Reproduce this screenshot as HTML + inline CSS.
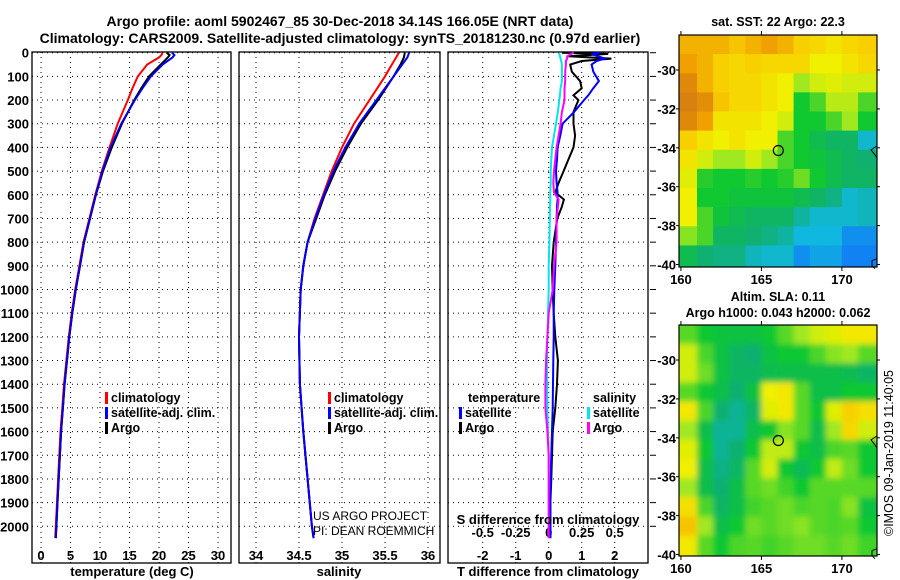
<!DOCTYPE html>
<html><head><meta charset="utf-8">
<style>
html,body{margin:0;padding:0;background:#fff;}
svg{display:block;font-family:"Liberation Sans",Arial,sans-serif;font-weight:bold;}
</style></head>
<body>
<svg id="c" width="900" height="580" viewBox="0 0 900 580" xmlns="http://www.w3.org/2000/svg">
<defs>
<clipPath id="clipT"><rect x="679" y="35" width="198" height="232"/></clipPath>
<clipPath id="clipB"><rect x="679" y="325" width="198" height="231"/></clipPath>
<filter id="blur" x="-10%" y="-10%" width="120%" height="120%"><feGaussianBlur stdDeviation="3"/></filter>
</defs>
<text x="340" y="26" text-anchor="middle" font-size="14">Argo profile: aoml 5902467_85 30-Dec-2018 34.14S 166.05E (NRT data)</text>
<text x="340" y="43" text-anchor="middle" font-size="14">Climatology: CARS2009. Satellite-adjusted climatology: synTS_20181230.nc (0.97d earlier)</text>
</svg>
<script>
// ---- profile data ----
const depthT = [0,10,20,50,100,150,200,300,400,500,600,700,800,900,1000,1100,1200,1300,1400,1500,1600,1700,1800,1900,2000,2050];
const tempArgo = [21.3,21.8,21.5,20.3,18.3,17.0,15.8,13.7,12.0,10.5,9.3,8.3,7.3,6.6,5.9,5.3,4.8,4.4,4.0,3.7,3.4,3.2,3.0,2.8,2.6,2.5];
const tempClim = [20.6,20.4,20.0,18.0,16.4,15.5,14.7,13.0,11.6,10.3,9.2,8.2,7.2,6.5,5.8,5.2,4.7,4.3,3.9,3.6,3.3,3.1,2.9,2.7,2.5,2.4];
const tempSat = [22.2,22.6,22.3,20.6,18.6,17.2,15.9,13.6,11.8,10.4,9.3,8.3,7.3,6.6,5.9,5.3,4.8,4.4,4.0,3.7,3.4,3.2,3.0,2.8,2.6,2.5];
const depthS = [0,20,50,100,200,300,400,500,600,700,800,900,1000,1200,1400,1600,1800,2000,2050];
const salArgo = [35.73,35.72,35.68,35.6,35.42,35.22,35.06,34.92,34.8,34.7,34.6,34.55,34.52,34.5,34.51,34.55,34.6,34.65,34.67];
const salClim = [35.66,35.63,35.58,35.5,35.32,35.14,35.0,34.88,34.78,34.68,34.6,34.55,34.52,34.5,34.51,34.55,34.6,34.65,34.67];
const salSat = [35.78,35.76,35.7,35.6,35.4,35.2,35.04,34.9,34.79,34.69,34.6,34.55,34.52,34.5,34.51,34.55,34.6,34.65,34.67];
const depthD = [0,5,15,25,35,50,80,120,150,180,200,250,300,350,400,450,500,550,590,620,650,700,800,900,1000,1100,1200,1300,1400,1500,1600,1700,1800,1900,2000,2050];
const tDiffArgo = [0.4,1.8,0.6,1.9,1.0,0.65,0.7,0.95,1.0,0.75,0.9,0.75,0.75,0.8,0.75,0.6,0.45,0.3,0.2,0.46,0.4,0.26,0.15,0.1,0.12,0.15,0.2,0.28,0.25,0.2,0.12,0.1,0.08,0.05,0.05,0.05];
const tDiffSat = [1.55,1.3,1.5,1.7,1.45,1.3,1.35,1.52,1.35,1.2,1.07,0.77,0.42,0.35,0.27,0.25,0.22,0.24,0.27,0.27,0.25,0.24,0.22,0.2,0.17,0.15,0.15,0.14,0.13,0.12,0.1,0.08,0.06,0.05,0.05,0.05];
const sDiffArgo = [0.19,0.17,0.14,0.14,0.13,0.13,0.125,0.125,0.12,0.12,0.12,0.1,0.09,0.075,0.06,0.05,0.04,0.035,0.04,0.075,0.07,0.06,0.06,0.04,0.03,0.0,-0.01,-0.02,-0.025,-0.025,-0.01,0.0,0.0,0.0,0.0,0.0];
const sDiffSat = [0.075,0.08,0.085,0.09,0.095,0.1,0.1,0.1,0.09,0.085,0.08,0.07,0.055,0.04,0.025,0.02,0.015,0.015,0.012,0.012,0.01,0.008,0.005,0.0,0.0,-0.005,-0.01,-0.012,-0.012,-0.01,-0.005,0.0,0.0,0.0,0.0,0.0];
const depthTicks = [0,100,200,300,400,500,600,700,800,900,1000,1100,1200,1300,1400,1500,1600,1700,1800,1900,2000];
const tempTicks = [0,5,10,15,20,25,30];
const salTicks = [34,34.5,35,35.5,36];
const salTickLabels = ["34","34.5","35","35.5","36"];
const tdTicks = [-2,-1,0,1,2];
const sdTicks = [-0.5,-0.25,0,0.25,0.5];
const sdTickLabels = ["-0.5","-0.25","0","0.25","0.5"];
// ---- map data (rows lat -28.2 -> -40, cols lon 160 -> 172) ----
const sstGrid = [
[.85,.85,.85,.82,.85,.88,.85,.8,.78,.75,.78,.8],
[.88,.85,.8,.78,.8,.78,.78,.78,.72,.72,.75,.78],
[.93,.85,.8,.78,.78,.75,.72,.62,.68,.7,.68,.68],
[.95,.92,.82,.78,.78,.75,.72,.5,.55,.65,.65,.55],
[.93,.88,.75,.75,.75,.72,.68,.5,.5,.55,.62,.5],
[.8,.75,.72,.75,.72,.72,.55,.5,.45,.42,.42,.3],
[.75,.68,.62,.62,.68,.62,.55,.5,.48,.45,.42,.4],
[.7,.52,.5,.5,.52,.5,.52,.58,.5,.45,.42,.42],
[.72,.5,.5,.48,.48,.48,.48,.45,.42,.38,.3,.32],
[.72,.55,.48,.45,.42,.42,.42,.35,.3,.3,.3,.32],
[.6,.55,.42,.42,.4,.38,.35,.28,.28,.28,.22,.22],
[.45,.4,.38,.38,.32,.3,.3,.22,.25,.25,.2,.2]];
const slaGrid = [
[.56,.5,.48,.47,.47,.5,.56,.62,.68,.7,.74,.74],
[.68,.55,.47,.42,.4,.47,.5,.5,.55,.6,.62,.56],
[.68,.58,.47,.42,.42,.45,.46,.46,.46,.46,.45,.42],
[.56,.5,.46,.4,.47,.72,.74,.56,.46,.46,.5,.5],
[.74,.55,.4,.36,.42,.7,.74,.56,.5,.7,.8,.76],
[.62,.46,.36,.36,.46,.5,.6,.56,.46,.62,.78,.68],
[.7,.5,.36,.4,.5,.66,.66,.5,.46,.55,.56,.5],
[.72,.46,.38,.42,.56,.68,.5,.44,.5,.66,.58,.5],
[.62,.46,.4,.46,.56,.58,.54,.5,.56,.56,.56,.56],
[.76,.55,.42,.46,.54,.56,.58,.55,.56,.55,.6,.47],
[.82,.62,.46,.5,.58,.56,.58,.6,.56,.55,.56,.5],
[.74,.56,.5,.55,.56,.54,.56,.58,.58,.56,.58,.54]];
const mapLatTicks = [-30,-32,-34,-36,-38,-40];
const mapLonTicks = [160,165,170];
const argoLon = 166.05, argoLat = -34.14;

const NS="http://www.w3.org/2000/svg";
const svg=document.getElementById('c');
function el(tag,attrs,parent){const e=document.createElementNS(NS,tag);for(const k in attrs)e.setAttribute(k,attrs[k]);(parent||svg).appendChild(e);return e;}

const Y0=52.7, PXD=0.2368;
const yD=d=>Y0+d*PXD;
const TOP=52, BOT=563;
const panels=[
 {x0:32,x1:231,name:'temperature'},
 {x0:239,x1:440,name:'salinity'},
 {x0:448,x1:648,name:'difference'}];
const xT=v=>32+(v+1.53)*5.9;
const xS=v=>256+(v-34)*86;
const xTD=v=>548.7+v*33;
const xSD=v=>548.7+v*132;

function path(xs,ys,fx,color,name,w){
  let d='';for(let i=0;i<xs.length;i++){d+=(i?'L':'M')+fx(xs[i]).toFixed(1)+' '+yD(ys[i]).toFixed(1);}
  const p=el('path',{d:d,fill:'none',stroke:color,'stroke-width':w||2});
  
  
}

panels.forEach((p,i)=>{
  const g=el('g',{});
  
  
  depthTicks.forEach(d=>{
    const l=el('line',{x1:p.x0,x2:p.x1,y1:yD(d),y2:yD(d),stroke:'#000','stroke-dasharray':'1 4','stroke-width':1},g);
    
    
  });
  el('rect',{x:p.x0,y:TOP,width:p.x1-p.x0,height:BOT-TOP,fill:'none',stroke:'#000','stroke-width':1.3},g);
});
function vgrid(ticks,labels,fx,ly,name){
  ticks.forEach((t,i)=>{
    const l=el('line',{x1:fx(t),x2:fx(t),y1:TOP,y2:BOT,stroke:'#000','stroke-dasharray':'1 4','stroke-width':1});
    
    
    const tx=el('text',{x:fx(t),y:ly,'text-anchor':'middle','font-size':13});
    tx.textContent=labels[i];
    
    
  });
}
vgrid(tempTicks,tempTicks.map(String),xT,560,'temperature-x');
vgrid(salTicks,salTickLabels,xS,560,'salinity-x');
vgrid(tdTicks,tdTicks.map(String),xTD,560,'t-diff-x');
sdTicks.forEach((t,i)=>{
  const tx=el('text',{x:xSD(t),y:537,'text-anchor':'middle','font-size':13});
  tx.textContent=sdTickLabels[i];
  
  
});
depthTicks.forEach(d=>{
  const tx=el('text',{x:29,y:yD(d)+5,'text-anchor':'end','font-size':13});
  tx.textContent=String(d);
  
  
  const tk=el('line',{x1:650,x2:656,y1:yD(d),y2:yD(d),stroke:'#000','stroke-width':1});
  
  
});
path(tempClim,depthT,xT,'#ff0000','temperature-climatology-line');
path(tempSat,depthT,xT,'#0000ff','temperature-satellite-line');
path(tempArgo,depthT,xT,'#000000','temperature-argo-line');
path(tempSat,depthT,xT,'#0000ff','temperature-satellite-line-top',1.6);
path(salClim,depthS,xS,'#ff0000','salinity-climatology-line');
path(salArgo,depthS,xS,'#000000','salinity-argo-line');
path(salSat,depthS,xS,'#0000ff','salinity-satellite-line');
path(sDiffSat,depthD,xSD,'#00e5ee','s-diff-satellite-line');
path(tDiffArgo,depthD,xTD,'#000000','t-diff-argo-line');
path(tDiffSat,depthD,xTD,'#0000ff','t-diff-satellite-line');
path(sDiffArgo,depthD,xSD,'#ff00ff','s-diff-argo-line');

function txt(x,y,s,size,name,anchor,weight){
  const t=el('text',{x:x,y:y,'font-size':size,'text-anchor':anchor||'start'});
  if(weight)t.setAttribute('font-weight',weight);
  t.textContent=s;
  
  
  return t;
}
txt(132,576,'temperature (deg C)',13,'temperature-axis-title','middle');
txt(339,576,'salinity',13,'salinity-axis-title','middle');
txt(548,576,'T difference from climatology',13,'t-diff-axis-title','middle');
txt(548,524,'S difference from climatology',13,'s-diff-axis-title','middle');
txt(313,520,'US ARGO PROJECT',12,'credit-project','start','normal');
txt(313,535,'PI: DEAN ROEMMICH',12,'credit-pi','start','normal');

function legend(x,y,color,label,name){
  const r=el('rect',{x:x,y:y-10,width:3,height:12,fill:color});
  
  
  txt(x+6,y,label,12.5,name+'-label');
}
legend(105,402,'#ff0000','climatology','legend-t-climatology');
legend(105,417,'#0000ff','satellite-adj. clim.','legend-t-satellite');
legend(105,432,'#000000','Argo','legend-t-argo');
legend(328,402,'#ff0000','climatology','legend-s-climatology');
legend(328,417,'#0000ff','satellite-adj. clim.','legend-s-satellite');
legend(328,432,'#000000','Argo','legend-s-argo');
txt(468,402,'temperature',12.5,'legend-diff-temperature-heading');
legend(459,417,'#0000ff','satellite','legend-diff-t-satellite');
legend(459,432,'#000000','Argo','legend-diff-t-argo');
txt(593,402,'salinity',12.5,'legend-diff-salinity-heading');
legend(587,417,'#00e5ee','satellite','legend-diff-s-satellite');
legend(587,432,'#ff00ff','Argo','legend-diff-s-argo');

const stops=[[0,[16,48,224]],[0.15,[16,96,255]],[0.28,[16,184,224]],[0.4,[16,176,112]],[0.5,[16,200,48]],[0.62,[160,232,32]],[0.72,[240,240,0]],[0.8,[248,208,0]],[0.88,[240,160,0]],[0.95,[216,128,16]],[1,[200,110,10]]];
function cmap(v){
  for(let i=1;i<stops.length;i++){if(v<=stops[i][0]){const a=stops[i-1],b=stops[i];const t=(v-a[0])/(b[0]-a[0]);const c=a[1].map((x,k)=>Math.round(x+(b[1][k]-x)*t));return 'rgb('+c.join(',')+')';}}
  return 'rgb(200,110,10)';
}
const LON0=159.88, LONPX=16.1, LATTOP=-28.2, LATPX=19.45;
function drawMap(grid,top,bottom,clip,name,blur){
  const xL=lon=>679+(lon-LON0)*LONPX;
  const yL=lat=>top+(LATTOP-lat)*LATPX;
  const outer=el('g',{'clip-path':'url(#'+clip+')'});
  
  
  const g=el('g',blur?{filter:'url(#blur)'}:{},outer);
  const rows=grid.length, cols=grid[0].length;
  const dlat=(40-28.2)/rows;
  for(let r=0;r<rows;r++)for(let c=0;c<cols;c++){
    const lat=LATTOP-r*dlat, lon=160+c;
    const x=(c===0?xL(lon)-20:xL(lon)), w=(c===0?LONPX+20+0.5:(c===cols-1?LONPX+20:LONPX+0.5));
    const y=(r===0?yL(lat)-20:yL(lat)), h=(r===0?dlat*LATPX+20.5:(r===rows-1?dlat*LATPX+20:dlat*LATPX+0.5));
    const cell=el('rect',{x:x.toFixed(1),y:y.toFixed(1),width:w.toFixed(1),height:h.toFixed(1),fill:cmap(grid[r][c])},g);
    
    
  }
  el('rect',{x:679,y:top,width:198,height:bottom-top,fill:'none',stroke:'#000','stroke-width':1.2});
  mapLatTicks.forEach(lat=>{
    const y=yL(lat);
    el('line',{x1:676,x2:679,y1:y,y2:y,stroke:'#000'});
    el('line',{x1:877,x2:880,y1:y,y2:y,stroke:'#000'});
    txt(676,y+5,String(lat),13,name+'-lat-label','end');
  });
  mapLonTicks.forEach(lon=>{
    const x=xL(lon);
    el('line',{x1:x,x2:x,y1:top-4,y2:top,stroke:'#000'});
    el('line',{x1:x,x2:x,y1:bottom,y2:bottom+4,stroke:'#000'});
    txt(x,bottom+17,String(lon),13,name+'-lon-label','middle');
  });
  const m=el('circle',{cx:xL(argoLon),cy:yL(argoLat),r:5,fill:'none',stroke:'#000','stroke-width':1.2});
  
  
  el('path',{d:'M877 '+(yL(-33.9))+' l-6 4 l4 5 l2 3',fill:'none',stroke:'#000'});
  el('path',{d:'M877 '+(yL(-39.7))+' l-5 2 l0 5 l3 3',fill:'none',stroke:'#000'});
}
drawMap(sstGrid,35,267,'clipT','sst-map',false);
drawMap(slaGrid,325,556,'clipB','sla-map',true);
txt(778,26,'sat. SST: 22 Argo: 22.3',12.5,'sst-map-title','middle');
txt(778,301,'Altim. SLA: 0.11',12.5,'sla-map-title','middle');
txt(778,317,'Argo h1000: 0.043 h2000: 0.062',12.5,'sla-map-subtitle','middle');
const imos=txt(0,0,'©IMOS 09-Jan-2019 11:40:05',12.5,'imos-timestamp','middle','normal');
imos.setAttribute('transform','translate(893,453) rotate(-90)');
</script>
</body></html>
